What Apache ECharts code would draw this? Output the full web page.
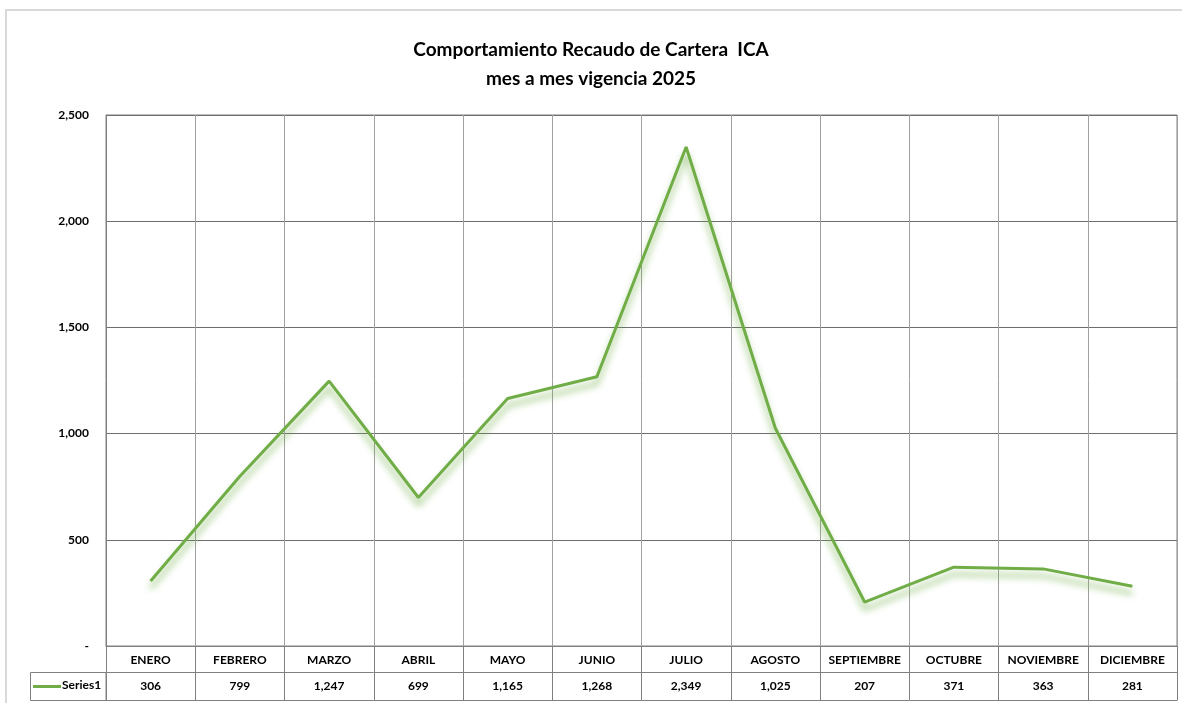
<!DOCTYPE html>
<html>
<head>
<meta charset="utf-8">
<script src="https://cdn.jsdelivr.net/npm/echarts@6/dist/echarts.min.js"></script>
<style>
  html, body { margin: 0; padding: 0; background: #fff; }
  #main { width: 1182px; height: 703px; }
</style>
</head>
<body>
<div id="main"></div>
<script>
// datos del grafico
var meses = ['ENERO', 'FEBRERO', 'MARZO', 'ABRIL', 'MAYO', 'JUNIO', 'JULIO', 'AGOSTO', 'SEPTIEMBRE', 'OCTUBRE', 'NOVIEMBRE', 'DICIEMBRE'];
var recaudo = [306, 799, 1247, 699, 1165, 1268, 2349, 1025, 207, 371, 363, 281];
var serieNombre = 'Series1';

var fuente = 'Lato, "Open Sans", sans-serif';
var verde = '#70ad47';

function miles(v) {
  return v.toString().replace(/\B(?=(\d{3})+(?!\d))/g, ',');
}

var myChart = echarts.init(document.getElementById('main'));

var option = {
  animation: false,
  title: {
    text: 'Comportamiento Recaudo de Cartera  ICA\nmes a mes vigencia 2025',
    left: 'center',
    top: 30,
    textStyle: {
      fontFamily: fuente,
      fontSize: 19,
      fontWeight: 'bold',
      color: '#000',
      lineHeight: 29
    }
  },
  grid: {
    left: 106,
    right: 5,
    top: 115,
    bottom: 57,
    show: true,
    borderColor: '#808080',
    borderWidth: 1
  },
  xAxis: [
    {
      type: 'category',
      data: meses,
      boundaryGap: true,
      axisLine: { show: true, lineStyle: { color: '#808080', width: 1 } },
      axisTick: { show: true, interval: 0, length: 54, lineStyle: { color: '#808080' } },
      splitLine: { show: true, interval: 0, lineStyle: { color: '#a0a0a0', width: 1 } },
      axisLabel: {
        interval: 0,
        fontFamily: fuente,
        fontSize: 12,
        fontWeight: 'bold',
        color: '#000',
        margin: 8
      }
    },
    {
      type: 'category',
      data: recaudo.map(miles),
      position: 'bottom',
      offset: 26,
      boundaryGap: true,
      axisLine: { show: true, lineStyle: { color: '#808080', width: 1 } },
      axisTick: { show: false },
      axisLabel: {
        interval: 0,
        fontFamily: fuente,
        fontSize: 12,
        fontWeight: 'bold',
        color: '#000',
        margin: 8
      }
    },
    {
      type: 'category',
      data: meses,
      position: 'bottom',
      offset: 54,
      axisLine: { show: true, lineStyle: { color: '#808080', width: 1 } },
      axisTick: { show: false },
      axisLabel: { show: false }
    }
  ],
  yAxis: {
    type: 'value',
    min: 0,
    max: 2500,
    interval: 500,
    axisLine: { show: true, lineStyle: { color: '#808080' } },
    axisTick: { show: false },
    splitLine: { show: true, lineStyle: { color: '#6e6e6e', width: 1 } },
    axisLabel: {
      fontFamily: fuente,
      fontSize: 12,
      fontWeight: 'bold',
      color: '#000',
      margin: 17,
      formatter: function (v) { return v === 0 ? '-' : miles(v); }
    }
  },
  series: [{
    name: serieNombre,
    type: 'line',
    data: recaudo,
    symbol: 'none',
    lineStyle: {
      color: verde,
      width: 3,
      shadowColor: 'rgba(112,173,71,0.75)',
      shadowBlur: 7,
      shadowOffsetY: 7
    },
    z: 5
  }],
  graphic: [
    // marco exterior del grafico
    { type: 'line', shape: { x1: 5, y1: 10, x2: 1182, y2: 10 }, style: { stroke: '#d9d9d9', lineWidth: 2 } },
    { type: 'line', shape: { x1: 6, y1: 10, x2: 6, y2: 703 }, style: { stroke: '#d9d9d9', lineWidth: 2 } },
    // celda de leyenda de la tabla
    { type: 'rect', shape: { x: 30.5, y: 672.5, width: 75.5, height: 28 }, style: { fill: 'none', stroke: '#808080', lineWidth: 1 } },
    { type: 'line', shape: { x1: 33, y1: 686.5, x2: 61, y2: 686.5 }, style: { stroke: verde, lineWidth: 3 } },
    {
      type: 'text', left: 62, top: 679,
      style: { text: serieNombre, fontFamily: fuente, fontSize: 12, fontWeight: 'bold', fill: '#000' }
    }
  ]
};

myChart.setOption(option);
</script>
</body>
</html>
